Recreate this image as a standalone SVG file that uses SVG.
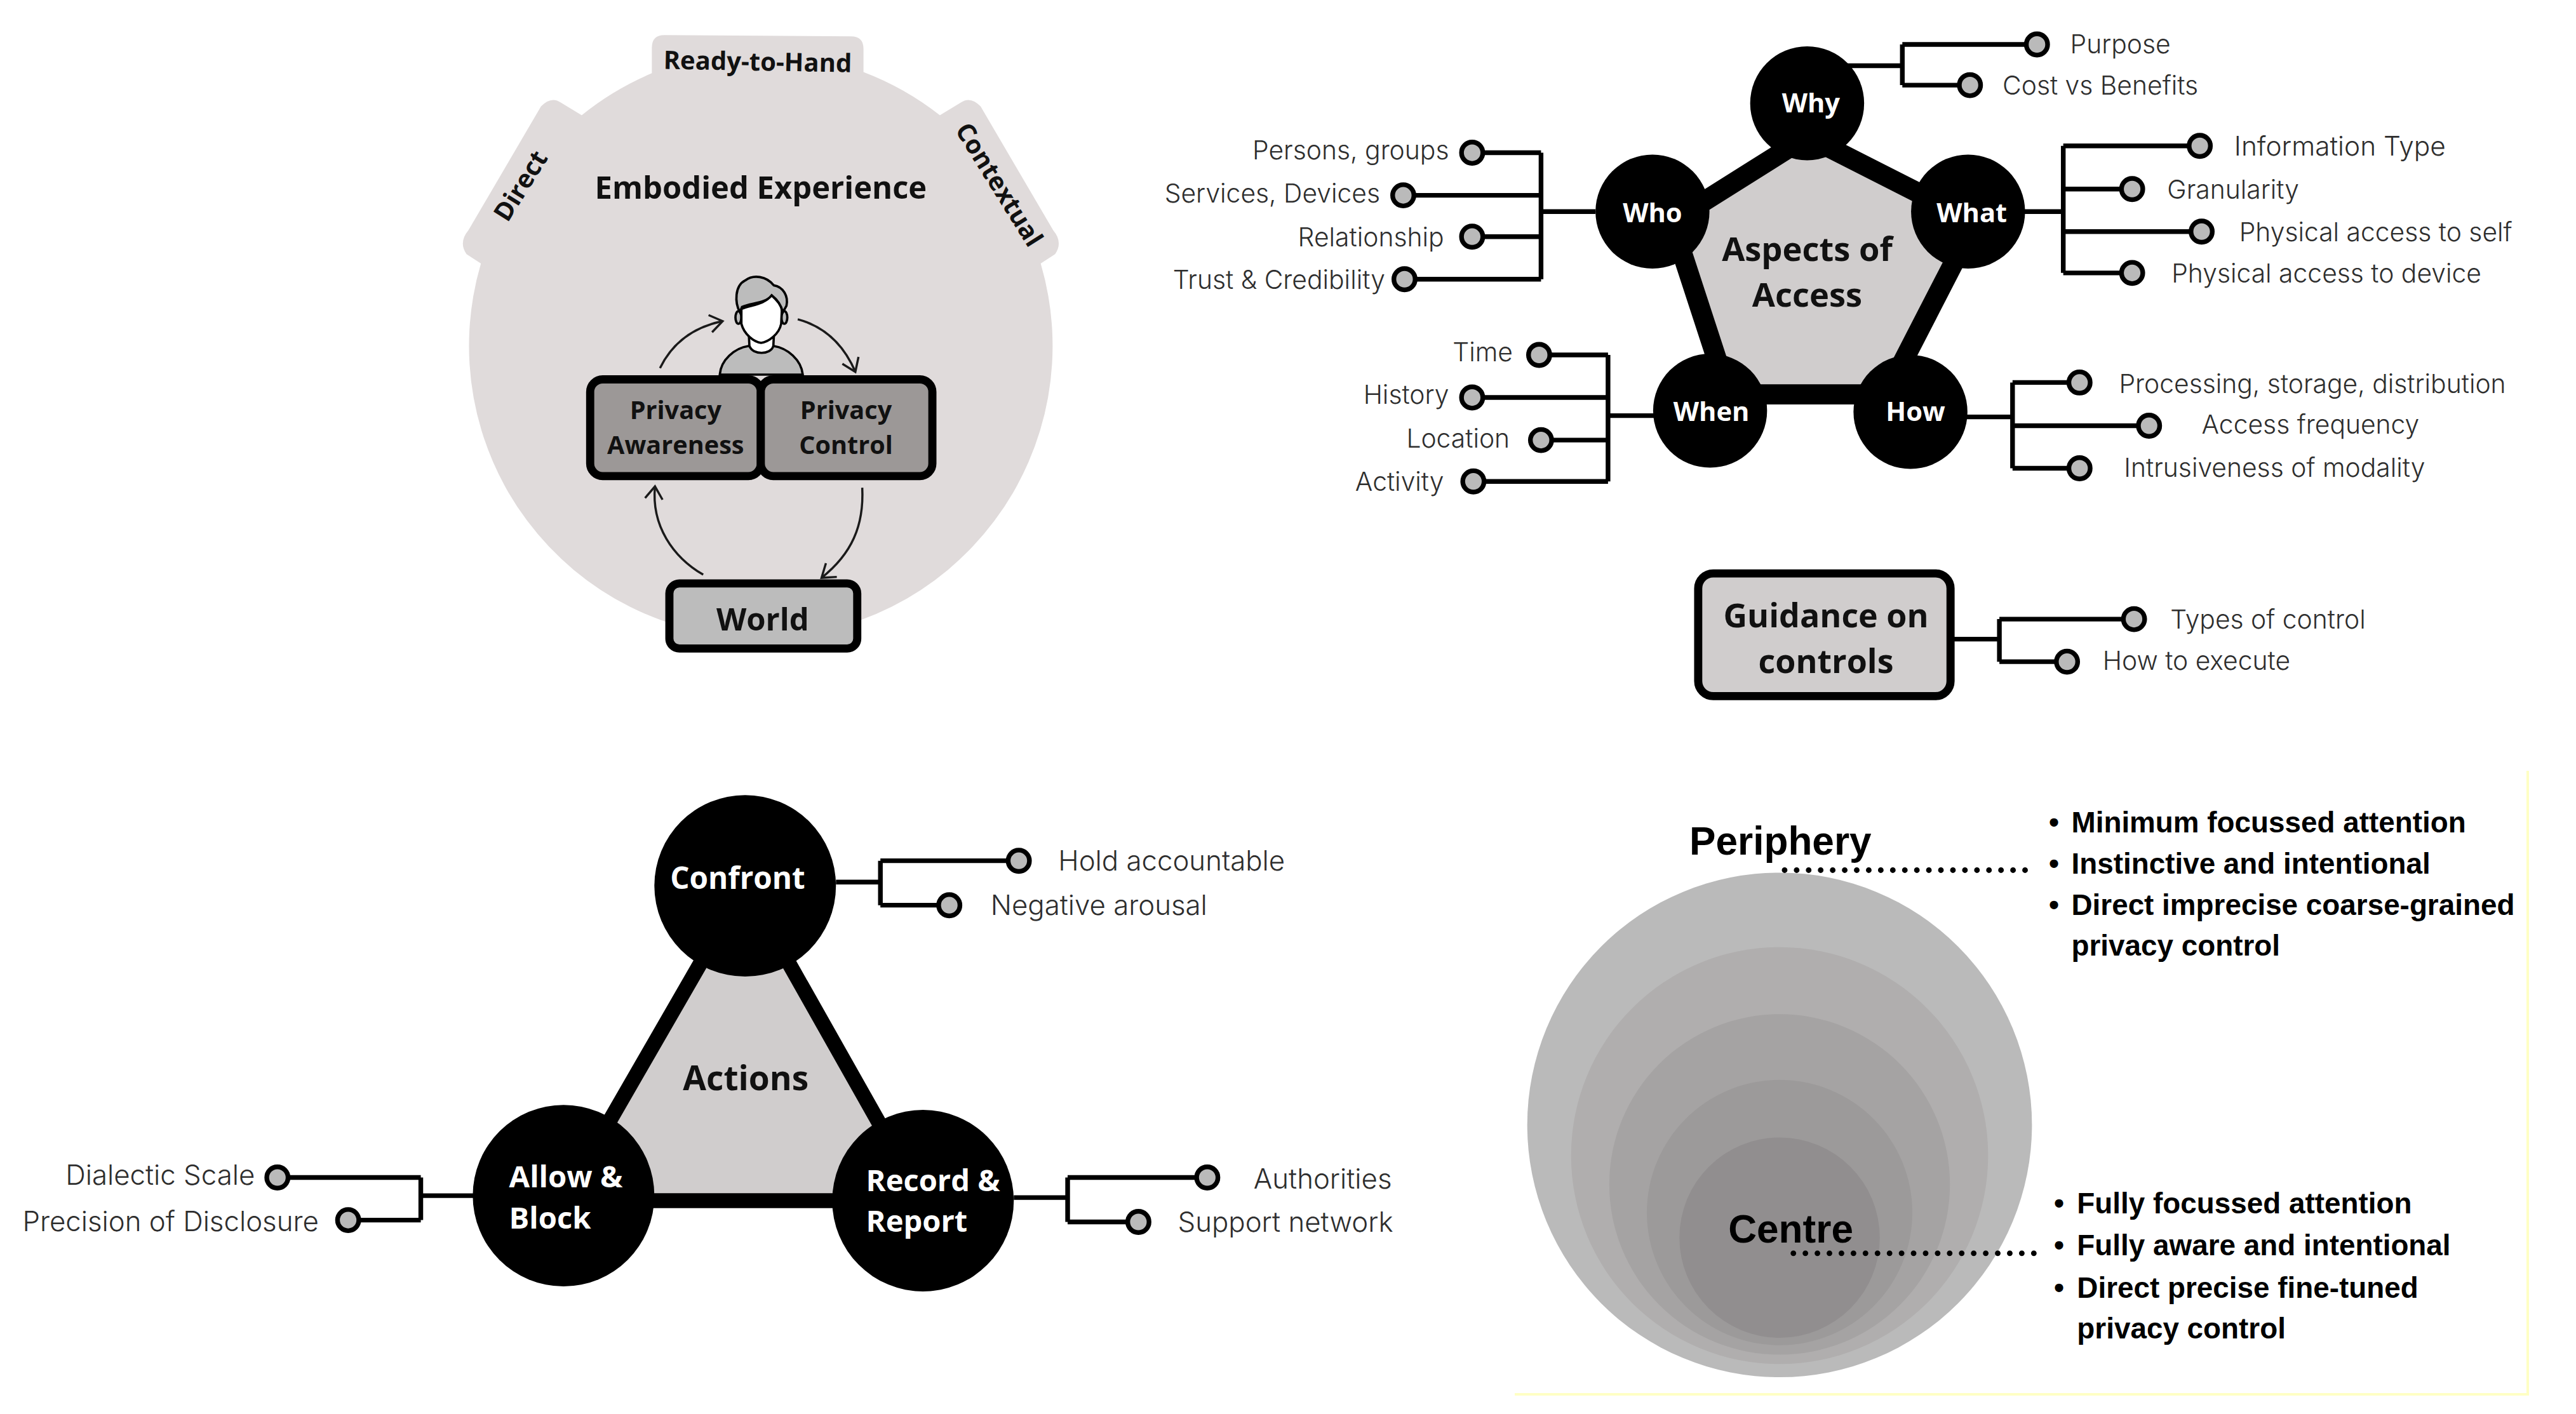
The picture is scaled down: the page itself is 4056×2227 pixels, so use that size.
<svg xmlns="http://www.w3.org/2000/svg" width="4056" height="2227" viewBox="0 0 4056 2227">
<style>
text{font-family:"Open Sans","Liberation Sans",sans-serif}
text.l{font-family:Inter,"Open Sans",sans-serif;font-weight:300;font-size:41.4px;fill:#2e2e2e;dominant-baseline:central}
text.k{font-size:44.4px}
text.i{font-size:43px}
.e{text-anchor:end}
.m{text-anchor:middle}
.b{font-weight:700;fill:#111;dominant-baseline:central}
.w{font-weight:700;fill:#fff;dominant-baseline:central}
.n{fill:#000}
.c path{fill:none;stroke:#000;stroke-width:7.5}
.d{fill:#bababa;stroke:#000;stroke-width:7.5}
.box{stroke:#000;stroke-width:13}
.a{fill:none;stroke:#1a1a1a;stroke-width:3.5;marker-end:url(#ah)}
.r text{font-family:"Liberation Sans",sans-serif;font-weight:700;font-size:46.5px;fill:#000;dominant-baseline:central}
text.p{font-family:"Liberation Sans",sans-serif;font-weight:700;font-size:63px;fill:#000}
.s{fill:none;stroke:#000;stroke-width:9;stroke-linecap:round;stroke-dasharray:0 19.2}
</style>
<defs><marker id="ah" markerUnits="userSpaceOnUse" markerWidth="40" markerHeight="40" refX="30" refY="20" orient="auto"><path d="M10,6 L30,20 L10,34" fill="none" stroke="#1a1a1a" stroke-width="3.5"/></marker></defs>
<rect width="4056" height="2227" fill="#fff"/>
<path id="panel-edge" d="M3980,1214V2196H2385" fill="none" stroke="#ffffc4" stroke-width="4"/>
<g id="diagram" transform="scale(.98594)">

<g id="embodied-experience">
<path fill="#e0dbdb" d="M1041,117 L1041,76 Q1041,56 1061,56 L1359,58 Q1379,58 1379,78 L1379,115 A466,466 0 0 1 1501,184 L1534,164 Q1550,153 1566,170 L1682,368 Q1698,387 1685,406 L1662,421 A466,466 0 1 1 768,421 L745,406 Q732,387 748,368 L864,170 Q880,153 896,164 L929,184 A466,466 0 0 1 1041,117 Z"/>
<text class="b m" font-size="40.6" x="1210" y="97" transform="rotate(1 1210 97)">Ready-to-Hand</text>
<text class="b m" font-size="40.6" x="830" y="296" transform="rotate(-58 830 296)">Direct</text>
<text class="b m" font-size="40.6" x="1597" y="294" transform="rotate(58 1597 294)">Contextual</text>
<text class="b m" font-size="49.6" x="1215" y="298">Embodied Experience</text>
</g>
<g id="person" transform="translate(1065 426) scale(.338)" stroke="#000" stroke-width="11">
<ellipse cx="338" cy="240" rx="14" ry="30" fill="#bcbcbc"/><ellipse cx="555" cy="240" rx="14" ry="30" fill="#bcbcbc"/>
<path fill="#bcbcbc" d="M250,510 C255,440 320,385 385,375 L505,375 C570,385 635,440 642,510 Z"/>
<path fill="#fff" d="M388,335 L390,375 C405,418 490,418 503,375 L505,335 Z"/>
<path fill="#fff" d="M352,200 C400,180 460,180 495,135 C520,160 543,180 543,210 L540,270 C530,320 480,355 445,360 C410,355 365,320 352,270 Z"/>
<path fill="#bcbcbc" d="M345,215 C320,170 320,90 370,65 C410,35 470,45 505,88 C550,95 575,140 565,185 L548,215 C540,180 520,155 495,135 C465,175 400,170 355,190 Z"/>
</g>
<g id="privacy-awareness">
<rect class="box" x="942.5" y="606" width="272.500" height="154.500" rx="20" fill="#9c9897"/>
<text class="b m" font-size="40.2" x="1079" y="654">Privacy</text>
<text class="b m" font-size="40.2" x="1079" y="710">Awareness</text>
</g>
<g id="privacy-control">
<rect class="box" x="1215" y="606" width="274" height="154.500" rx="20" fill="#9c9897"/>
<text class="b m" font-size="40.2" x="1351" y="654">Privacy</text>
<text class="b m" font-size="40.2" x="1351" y="710">Control</text>
</g>
<g id="world">
<rect class="box" x="1069" y="932" width="300" height="104" rx="16" fill="#bcbcbc" stroke-width="12"/>
<text class="b m" font-size="49.7" x="1218" y="988">World</text>
</g>
<g id="experience-arrows">
<path class="a" d="M1054,588 C1075,545 1110,522 1154,513"/>
<path class="a" d="M1274,510 C1318,522 1348,552 1366,594"/>
<path class="a" d="M1123,918 C1075,890 1040,840 1046,777"/>
<path class="a" d="M1377,779 C1380,840 1360,885 1312,923"/>
</g>

<g id="connectors" class="c">
<path d="M2949,105H3038M3038,71V136M3038,71H3253M3038,136H3146"/>
<path d="M2548,338H2461M2461,244V446M2461,244H2351M2461,312H2241M2461,378H2351M2461,446H2243"/>
<path d="M3232,338H3295M3295,233V436M3295,233H3513M3295,302H3405M3295,370H3516M3295,436H3405"/>
<path d="M2642,664H2568M2568,567V769M2568,567H2458M2568,635H2351M2568,703H2461M2568,769H2353"/>
<path d="M3140,666H3214M3214,611V748M3214,611H3321M3214,680H3432M3214,748H3321"/>
<path d="M3119,1021H3193M3193,989V1057M3193,989H3408M3193,1057H3301"/>
<path d="M1335,1409H1406M1406,1375V1446M1406,1375H1627M1406,1446H1516"/>
<path d="M758,1910H672M672,1881V1949M672,1881H443M672,1949H556"/>
<path d="M1619,1913H1705M1705,1881V1952M1705,1881H1928M1705,1952H1818"/>
</g>

<g id="aspects-of-access">
<polygon points="2886,218 3154,354 3012,630 2760,630 2670,354" fill="#d0cdcd" stroke="#000" stroke-width="32" stroke-linejoin="round"/>
<text class="b m" font-size="53.200" x="2886" y="396">Aspects of</text>
<text class="b m" font-size="53.200" x="2886" y="469">Access</text>
</g>
<g id="why"><circle class="n" cx="2886" cy="165" r="91"/><text class="w m" font-size="42.300" x="2892" y="163">Why</text></g>
<g id="who"><circle class="n" cx="2639" cy="338" r="91"/><text class="w m" font-size="42.300" x="2639" y="338">Who</text></g>
<g id="what"><circle class="n" cx="3143" cy="338" r="91"/><text class="w m" font-size="42.300" x="3149" y="338">What</text></g>
<g id="when"><circle class="n" cx="2731" cy="656" r="91"/><text class="w m" font-size="42.300" x="2733" y="656">When</text></g>
<g id="how"><circle class="n" cx="3051" cy="658" r="91"/><text class="w m" font-size="42.300" x="3059" y="656">How</text></g>

<g id="purpose"><circle class="d" cx="3253" cy="71" r="17"/><text class="l" x="3306" y="70">Purpose</text></g>
<g id="cost"><circle class="d" cx="3146" cy="136" r="17"/><text class="l" x="3198" y="136">Cost vs Benefits</text></g>
<g id="persons"><circle class="d" cx="2351" cy="244" r="17"/><text class="l e" x="2314" y="239">Persons, groups</text></g>
<g id="services"><circle class="d" cx="2241" cy="312" r="17"/><text class="l e" x="2204" y="308">Services, Devices</text></g>
<g id="relationship"><circle class="d" cx="2351" cy="378" r="17"/><text class="l e" x="2306" y="378">Relationship</text></g>
<g id="trust"><circle class="d" cx="2243" cy="446" r="17"/><text class="l e" x="2212" y="446">Trust &amp; Credibility</text></g>
<g id="information-type"><circle class="d" cx="3513" cy="233" r="17"/><text class="l i" x="3568" y="233">Information Type</text></g>
<g id="granularity"><circle class="d" cx="3405" cy="302" r="17"/><text class="l" x="3461" y="302">Granularity</text></g>
<g id="access-self"><circle class="d" cx="3516" cy="370" r="17"/><text class="l" x="3576" y="370">Physical access to self</text></g>
<g id="access-device"><circle class="d" cx="3405" cy="436" r="17"/><text class="l" x="3468" y="436">Physical access to device</text></g>
<g id="time"><circle class="d" cx="2458" cy="567" r="17"/><text class="l e" x="2416" y="562">Time</text></g>
<g id="history"><circle class="d" cx="2351" cy="635" r="17"/><text class="l e" x="2314" y="630">History</text></g>
<g id="location"><circle class="d" cx="2461" cy="703" r="17"/><text class="l e" x="2411" y="700">Location</text></g>
<g id="activity"><circle class="d" cx="2353" cy="769" r="17"/><text class="l e" x="2306" y="769">Activity</text></g>
<g id="processing"><circle class="d" cx="3321" cy="611" r="17"/><text class="l" x="3384" y="613">Processing, storage, distribution</text></g>
<g id="frequency"><circle class="d" cx="3432" cy="680" r="17"/><text class="l" x="3516" y="678">Access frequency</text></g>
<g id="intrusiveness"><circle class="d" cx="3321" cy="748" r="17"/><text class="l" x="3392" y="746">Intrusiveness of modality</text></g>

<g id="guidance">
<rect class="box" x="2712" y="916" width="403" height="196" rx="24" fill="#d0cdcd" stroke-width="15"/>
<text class="b m" font-size="52.700" x="2916" y="981">Guidance on</text>
<text class="b m" font-size="52.700" x="2916" y="1054">controls</text>
</g>
<g id="types"><circle class="d" cx="3408" cy="989" r="17"/><text class="l" x="3466" y="989">Types of control</text></g>
<g id="execute"><circle class="d" cx="3301" cy="1057" r="17"/><text class="l" x="3358" y="1055">How to execute</text></g>

<g id="actions">
<polygon points="1190,1415 1474,1918 900,1918" fill="#d0cdcd" stroke="#000" stroke-width="24"/>
<text class="b m" font-size="54" x="1191" y="1721">Actions</text>
</g>
<g id="confront"><circle class="n" cx="1190" cy="1415" r="145"/><text class="w m" font-size="48.300" x="1178" y="1401">Confront</text></g>
<g id="allow"><circle class="n" cx="900" cy="1910" r="145"/><text class="w" font-size="47.900" x="813" y="1878">Allow &amp;</text><text class="w" font-size="47.900" x="813" y="1944">Block</text></g>
<g id="record"><circle class="n" cx="1474" cy="1918" r="145"/><text class="w" font-size="47.800" x="1383" y="1884">Record &amp;</text><text class="w" font-size="47.800" x="1383" y="1949">Report</text></g>
<g id="hold"><circle class="d" cx="1627" cy="1375" r="17"/><text class="l k" x="1690" y="1375">Hold accountable</text></g>
<g id="arousal"><circle class="d" cx="1516" cy="1446" r="17"/><text class="l k" x="1582" y="1446">Negative arousal</text></g>
<g id="dialectic"><circle class="d" cx="443" cy="1881" r="17"/><text class="l e k" x="407" y="1877">Dialectic Scale</text></g>
<g id="precision"><circle class="d" cx="556" cy="1949" r="17"/><text class="l e k" x="509" y="1951">Precision of Disclosure</text></g>
<g id="authorities"><circle class="d" cx="1928" cy="1881" r="17"/><text class="l k" x="2002" y="1883">Authorities</text></g>
<g id="support"><circle class="d" cx="1818" cy="1952" r="17"/><text class="l k" x="1881" y="1952">Support network</text></g>

<g id="attention">
<circle cx="2842" cy="1797" r="403" fill="#bababa"/>
<circle cx="2842" cy="1846" r="333" fill="#b0aeae"/>
<circle cx="2842" cy="1892" r="272" fill="#a5a3a3"/>
<circle cx="2842" cy="1937" r="212" fill="#9c9a9a"/>
<circle cx="2842" cy="1977" r="160" fill="#918e8f"/>
<text class="p" x="2698" y="1365">Periphery</text>
<text class="p" x="2760" y="1985">Centre</text>
<path class="s" d="M2850,1390H3240"/>
<path class="s" d="M2864,2002H3250"/>
<g class="r">
<text x="3272" y="1314">•</text><text x="3308" y="1314">Minimum focussed attention</text>
<text x="3272" y="1380">•</text><text x="3308" y="1380">Instinctive and intentional</text>
<text x="3272" y="1446">•</text><text x="3308" y="1446">Direct imprecise coarse-grained</text>
<text x="3308" y="1511">privacy control</text>
<text x="3280" y="1923">•</text><text x="3317" y="1923">Fully focussed attention</text>
<text x="3280" y="1989">•</text><text x="3317" y="1989">Fully aware and intentional</text>
<text x="3280" y="2057">•</text><text x="3317" y="2057">Direct precise fine-tuned</text>
<text x="3317" y="2122">privacy control</text>
</g>
</g>
</g>
</svg>
